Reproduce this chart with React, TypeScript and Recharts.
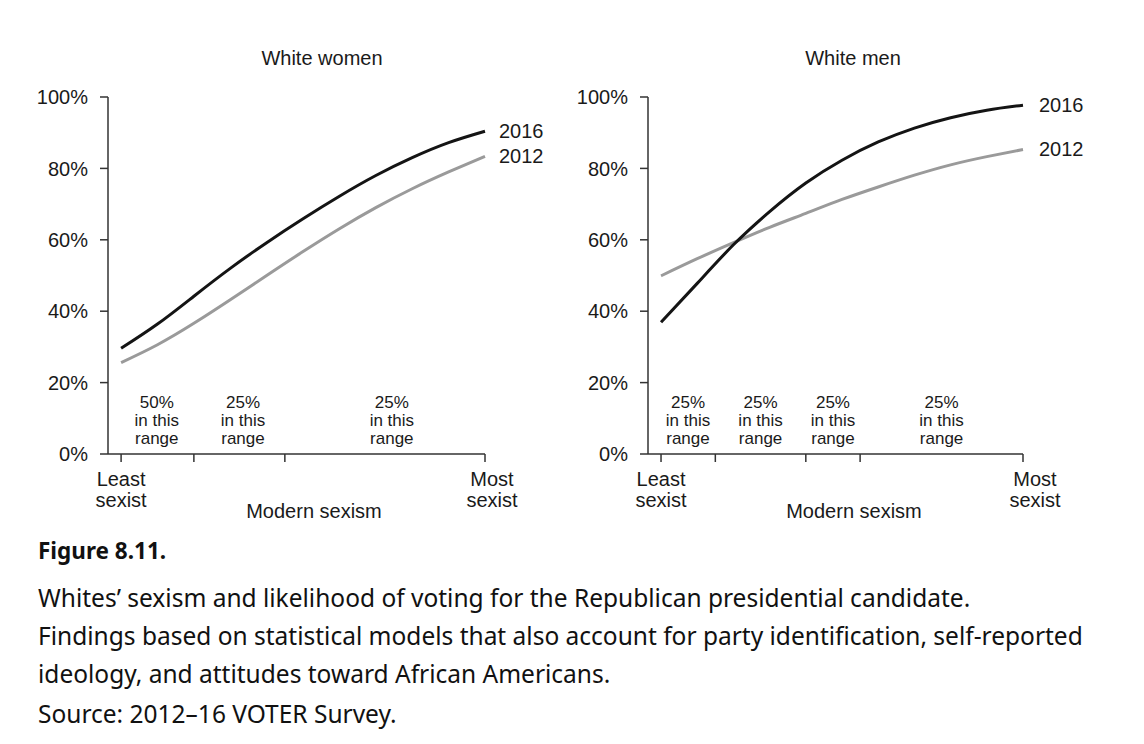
import React from "react";
import { LineChart, Line, XAxis, YAxis, ReferenceDot } from "recharts";

// ---- data ----
const xPos = [0, 0.1, 0.2, 0.3, 0.4, 0.5, 0.6, 0.7, 0.8, 0.9, 1];
const women2016 = [29.6, 36.4, 44.2, 52.0, 59.2, 65.9, 72.2, 78.0, 83.0, 87.2, 90.4];
const women2012 = [25.6, 30.6, 36.6, 43.2, 50.0, 56.7, 63.1, 69.0, 74.3, 79.0, 83.4];
const men2016 = [36.9, 47.8, 58.6, 67.9, 75.9, 82.3, 87.4, 91.3, 94.2, 96.3, 97.7];
const men2012 = [49.9, 54.7, 59.2, 63.5, 67.4, 71.3, 74.8, 78.1, 81.0, 83.3, 85.3];

const yTicks = [0, 20, 40, 60, 80, 100];
const womenXTicks = [0, 0.2, 0.45, 1];
const menXTicks = [0, 0.15, 0.4, 0.55, 1];
const womenRangePos = [0.098, 0.335, 0.744];
const womenRangePct = ["50%", "25%", "25%"];
const menRangePos = [0.0745, 0.275, 0.475, 0.775];
const menRangePct = ["25%", "25%", "25%", "25%"];

const captionLines = [
  "Whites\u2019 sexism and likelihood of voting for the Republican presidential candidate.",
  "Findings based on statistical models that also account for party identification, self-reported",
  "ideology, and attitudes toward African Americans.",
  "Source: 2012\u201316 VOTER Survey.",
];

const FONT = "'Liberation Sans', Arial, Helvetica, sans-serif";
const AXIS = "#333";
const TXT = "#1a1a1a";

function buildRows(a: number[], b: number[]) {
  return xPos.map((x, i) => ({ x, y2016: a[i], y2012: b[i] }));
}

function Panel(props: {
  title: string;
  a: number[];
  b: number[];
  xTicks: number[];
  rangePos: number[];
  rangePct: string[];
  mostDx: number;
  marginRight: number;
  labelDx: number;
  titleCenter: number;
}) {
  const rows = buildRows(props.a, props.b);
  const last = rows.length - 1;
  const endLabel = (txt: string) => (p: any) => {
    if (p.index !== last) return null;
    return (
      <text x={p.x + props.labelDx} y={p.y + 7} fontSize={20} fontFamily={FONT} fill={TXT}>
        {txt}
      </text>
    );
  };
  const tick = (p: any) => {
    const v = p.payload.value;
    let l1 = "";
    let l2 = "";
    let dx = 0;
    if (v === 0) {
      l1 = "Least";
      l2 = "sexist";
    } else if (v === 1) {
      l1 = "Most";
      l2 = "sexist";
      dx = props.mostDx;
    } else return <g />;
    return (
      <text x={p.x + dx} y={p.y} textAnchor="middle" fontSize={20} fontFamily={FONT} fill={TXT}>
        <tspan x={p.x + dx} dy={22}>{l1}</tspan>
        <tspan x={p.x + dx} dy={21}>{l2}</tspan>
      </text>
    );
  };
  return (
    <div style={{ position: "relative", width: 560, height: 540 }}>
      <div
        style={{
          position: "absolute",
          left: props.titleCenter - 100,
          width: 200,
          top: 47,
          textAlign: "center",
          fontFamily: FONT,
          fontSize: 20,
          color: TXT,
          lineHeight: "22px",
        }}
      >
        {props.title}
      </div>
      <LineChart
        width={560}
        height={540}
        data={rows}
        margin={{ top: 97, right: props.marginRight, bottom: 6, left: 48 }}
      >
        <XAxis
          type="number"
          dataKey="x"
          domain={[-0.036, 1]}
          ticks={props.xTicks}
          interval={0}
          tickSize={8}
          height={80}
          axisLine={{ stroke: AXIS, strokeWidth: 1.5 }}
          tickLine={{ stroke: AXIS, strokeWidth: 1.5 }}
          tick={tick}
          label={(lp: any) => {
            const vb = lp.viewBox || {};
            return (
              <text
                x={(vb.x || 0) + 206}
                y={518}
                textAnchor="middle"
                fontSize={20}
                fontFamily={FONT}
                fill={TXT}
              >
                Modern sexism
              </text>
            );
          }}
        />
        <YAxis
          type="number"
          domain={[0, 100]}
          ticks={yTicks}
          width={60}
          tickSize={8}
          tickMargin={12}
          tickFormatter={(v: number) => `${v}%`}
          axisLine={{ stroke: AXIS, strokeWidth: 1.5 }}
          tickLine={{ stroke: AXIS, strokeWidth: 1.5 }}
          tick={{ fontSize: 20, fontFamily: FONT, fill: TXT }}
        />
        {props.rangePos.map((pos, i) => (
          <ReferenceDot
            key={i}
            x={pos}
            y={0}
            r={0}
            shape={(sp: any) => (
              <text textAnchor="middle" fontSize={17} fontFamily={FONT} fill={TXT}>
                <tspan x={sp.cx} y={sp.cy - 46}>{props.rangePct[i]}</tspan>
                <tspan x={sp.cx} y={sp.cy - 28}>in this</tspan>
                <tspan x={sp.cx} y={sp.cy - 10}>range</tspan>
              </text>
            )}
          />
        ))}
        <Line
          type="natural"
          dataKey="y2012"
          stroke="#9a9a9a"
          strokeWidth={3}
          dot={false}
          activeDot={false}
          isAnimationActive={false}
          label={endLabel("2012")}
        />
        <Line
          type="natural"
          dataKey="y2016"
          stroke="#141414"
          strokeWidth={3}
          dot={false}
          activeDot={false}
          isAnimationActive={false}
          label={endLabel("2016")}
        />
      </LineChart>
    </div>
  );
}

export default function App() {
  const capStyle: React.CSSProperties = {
    position: "absolute",
    left: 38,
    fontFamily: "'Noto Sans', 'Open Sans', sans-serif",
    fontSize: 24.5,
    lineHeight: "24.5px",
    color: "#111",
    whiteSpace: "nowrap",
  };
  const capTops = [586, 624, 662, 702];
  return (
    <div
      style={{
        position: "absolute",
        left: 0,
        top: 0,
        width: 1144,
        height: 744,
        background: "#fff",
        overflow: "hidden",
      }}
    >
      <div style={{ position: "absolute", left: 0, top: 0 }}>
        <Panel
          title="White women"
          a={women2016}
          b={women2012}
          xTicks={womenXTicks}
          rangePos={womenRangePos}
          rangePct={womenRangePct}
          mostDx={7}
          marginRight={75}
          labelDx={14}
          titleCenter={322}
        />
      </div>
      <div style={{ position: "absolute", left: 540, top: 0 }}>
        <Panel
          title="White men"
          a={men2016}
          b={men2012}
          xTicks={menXTicks}
          rangePos={menRangePos}
          rangePct={menRangePct}
          mostDx={12}
          marginRight={77}
          labelDx={16}
          titleCenter={313}
        />
      </div>
      <div style={{ ...capStyle, top: 540, fontSize: 22.5, lineHeight: "22.5px", fontWeight: 700 }}>
        Figure 8.11.
      </div>
      {captionLines.map((t, i) => (
        <div key={i} style={{ ...capStyle, top: capTops[i] }}>
          {t}
        </div>
      ))}
    </div>
  );
}
